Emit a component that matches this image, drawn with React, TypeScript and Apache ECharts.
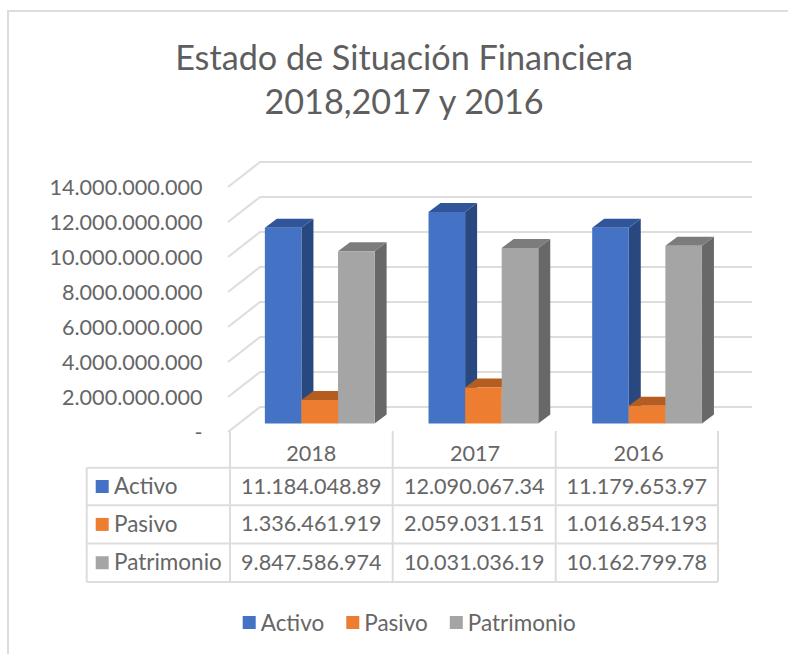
import React, { useEffect, useRef } from "react";
import * as echarts from "echarts";

const categories = ["2018", "2017", "2016"];
const activo = [11184048890, 12090067340, 11179653970];
const pasivo = [1336461919, 2059031151, 1016854193];
const patrimonio = [9847586974, 10031036190, 10162799780];
const yTicks = [0, 2e9, 4e9, 6e9, 8e9, 10e9, 12e9, 14e9];
const tableRowNames = ["Activo", "Pasivo", "Patrimonio"];
const tableActivo = ["11.184.048.89", "12.090.067.34", "11.179.653.97"];
const tablePasivo = ["1.336.461.919", "2.059.031.151", "1.016.854.193"];
const tablePatrimonio = ["9.847.586.974", "10.031.036.19", "10.162.799.78"];
const colors = ["#4472C4", "#ED7D31", "#A5A5A5"];
const topColors = ["#31559A", "#B35D21", "#7C7C7C"];
const sideColors = ["#2A4880", "#9E5220", "#686868"];

const FONT = "Lato";
const TEXT = "#666666";
const LINE = "#DDDDDD";

function barSeries(name: string, values: number[], idx: number) {
  return {
    name,
    type: "custom",
    z: 5,
    itemStyle: { color: colors[idx] },
    data: values.map((v, i) => [i, v]),
    encode: { x: 0, y: 1 },
    renderItem: (_p: any, api: any) => {
      const cat = api.value(0);
      const [cx, top] = api.coord([cat, api.value(1)]);
      const [, base] = api.coord([cat, 0]);
      const band = api.size([1, 0])[0];
      const w = band * 0.2235;
      const x0 = cx + 8.4 - 1.5 * w + idx * w;
      const shiftY = -8.5;
      const y1 = top + shiftY;
      const y0 = base + shiftY;
      const dx = 12;
      const dy = -9;
      return {
        type: "group",
        children: [
          {
            type: "polygon",
            shape: { points: [[x0 + w, y1], [x0 + w + dx, y1 + dy], [x0 + w + dx, y0 + dy], [x0 + w, y0]] },
            style: { fill: sideColors[idx] },
          },
          {
            type: "polygon",
            shape: { points: [[x0, y1], [x0 + dx, y1 + dy], [x0 + w + dx, y1 + dy], [x0 + w, y1]] },
            style: { fill: topColors[idx] },
          },
          { type: "rect", shape: { x: x0, y: y1, width: w, height: y0 - y1 }, style: { fill: colors[idx] } },
        ],
      };
    },
  };
}

export default function App() {
  const ref = useRef<HTMLDivElement>(null);
  useEffect(() => {
    const chart = echarts.init(ref.current!, null, { renderer: "svg" });
    const hLine = (x1: number, x2: number, y: number) => ({
      type: "line",
      shape: { x1, y1: y, x2, y2: y },
      style: { stroke: LINE, lineWidth: 2 },
    });
    const vLine = (x: number, y1: number, y2: number) => ({
      type: "line",
      shape: { x1: x, y1, x2: x, y2 },
      style: { stroke: LINE, lineWidth: 2 },
    });
    const colX = [230, 392.7, 555.7, 718];
    const rowY = [467.7, 505.3, 543.5, 582];
    const rows = [tableActivo, tablePasivo, tablePatrimonio];
    const tableText: any[] = [];
    rows.forEach((row, r) => {
      const cy = (rowY[r] + rowY[r + 1]) / 2;
      tableText.push({
        type: "rect",
        shape: { x: 95.7, y: cy - 6.5, width: 13, height: 13 },
        style: { fill: colors[r] },
      });
      tableText.push({
        type: "text",
        x: 114,
        y: cy - 1,
        style: { text: tableRowNames[r], font: `22.5px ${FONT}`, fill: TEXT, textVerticalAlign: "middle", textAlign: "left" },
      });
      row.forEach((t, c) => {
        tableText.push({
          type: "text",
          x: (colX[c] + colX[c + 1]) / 2,
          y: cy - 1,
          style: { text: t, font: `21.6px ${FONT}`, fill: TEXT, textAlign: "center", textVerticalAlign: "middle" },
        });
      });
    });

    chart.setOption({
      animation: false,
      backgroundColor: "#ffffff",
      title: {
        text: "Estado de Situación Financiera\n2018,2017 y 2016",
        left: 399,
        top: 29,
        textAlign: "center",
        textStyle: { fontFamily: FONT, fontSize: 34.2, fontWeight: "normal", color: "#5E5E5E", lineHeight: 44 },
      },
      grid: { left: 229.5, width: 491, top: 187, height: 245, containLabel: false },
      xAxis: {
        type: "category",
        data: categories,
        axisLine: { show: false },
        axisTick: { show: false },
        axisLabel: { fontFamily: FONT, fontSize: 21.6, color: TEXT, margin: 10 },
      },
      yAxis: {
        type: "value",
        min: 0,
        max: 14e9,
        interval: 2e9,
        splitLine: { show: false },
        axisLine: { show: false },
        axisTick: { show: false },
        axisLabel: {
          fontFamily: FONT,
          fontSize: 21.6,
          color: TEXT,
          margin: 27,
          padding: [0, 0, 3, 0],
          formatter: (v: number) => (v === 0 ? "-" : String(v).replace(/\B(?=(\d{3})+(?!\d))/g, ".")),
        },
      },
      legend: {
        data: tableRowNames,
        left: 237.7,
        top: 606,
        icon: "rect",
        itemWidth: 13,
        itemHeight: 13,
        itemGap: 22,
        textStyle: { fontFamily: FONT, fontSize: 22.5, color: TEXT },
      },
      series: [
        {
          name: "walls",
          type: "custom",
          z: 1,
          silent: true,
          data: yTicks.map((v) => [0, v]),
          encode: { x: 0, y: 1 },
          renderItem: (p: any, api: any) => {
            const [, y] = api.coord([0, api.value(1)]);
            const left = p.coordSys.x;
            const right = left + p.coordSys.width;
            return {
              type: "polyline",
              shape: { points: [[left - 1.5, y], [left + 30.5, y - 25], [right + 31.5, y - 25]] },
              style: { stroke: LINE, lineWidth: 2, fill: "none" },
            };
          },
        },
        barSeries(tableRowNames[0], activo, 0),
        barSeries(tableRowNames[1], pasivo, 1),
        barSeries(tableRowNames[2], patrimonio, 2),
      ],
      graphic: [
        { type: "polyline", shape: { points: [[8, 654], [8, 11], [788, 11]] }, style: { stroke: LINE, lineWidth: 2, fill: "none" } },
        ...rowY.map((y) => hLine(86.7, 718, y)),
        ...colX.map((x) => vLine(x, 431, 582)),
        vLine(86.7, 467.7, 582),
        ...tableText,
      ],
    });
    return () => chart.dispose();
  }, []);
  return <div ref={ref} style={{ position: "fixed", left: 0, top: 0, width: 788, height: 654 }} />;
}
